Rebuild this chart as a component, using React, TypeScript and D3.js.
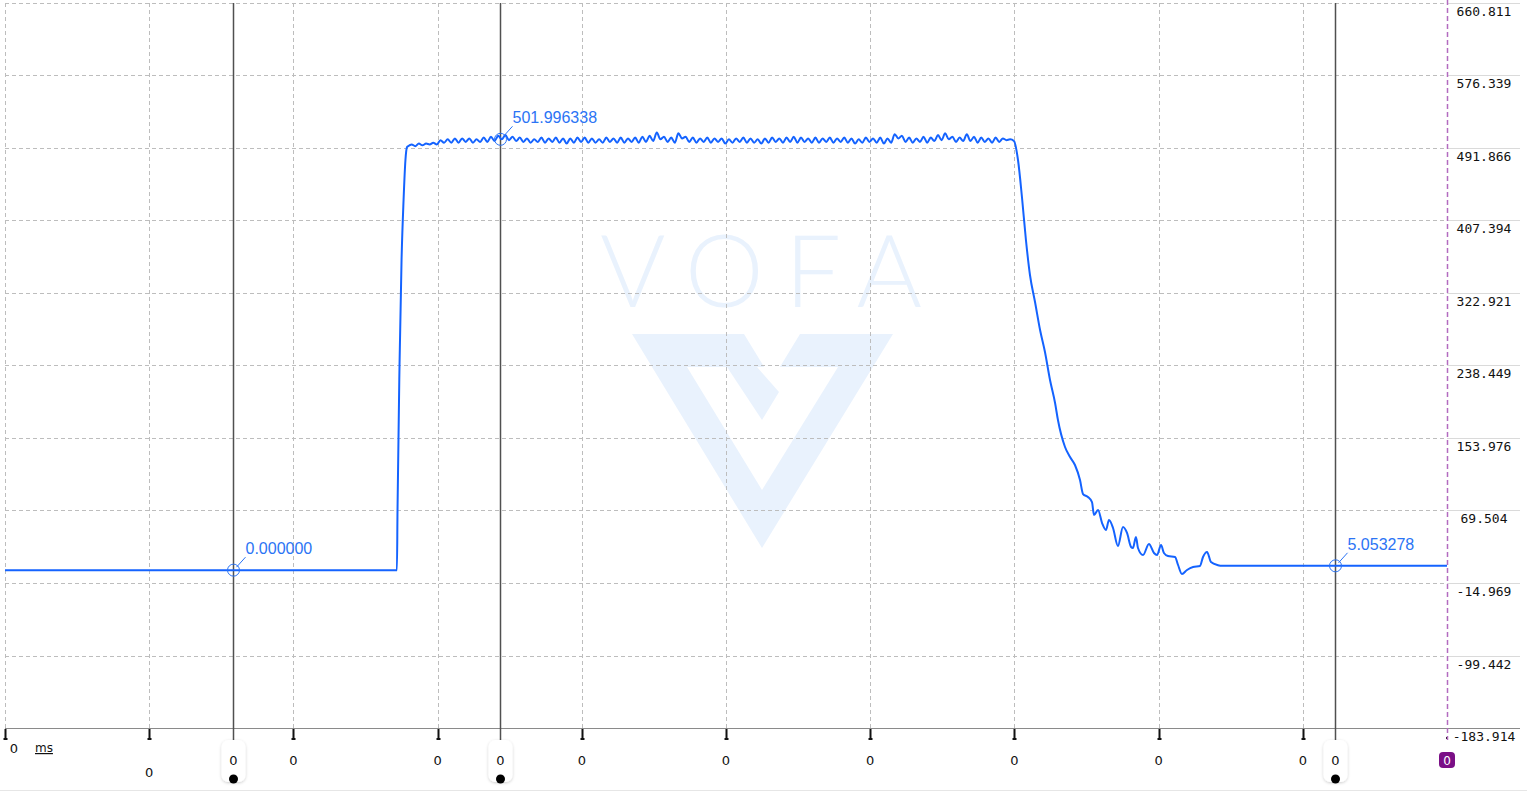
import React from 'react';
import * as d3 from 'd3';

const xTicks = [0, 100, 200, 300, 400, 500, 600, 700, 800, 900, 1000];
const xTickLabels = ['0', '0', '0', '0', '0', '0', '0', '0', '0', '0'];
const yTickLabels = ['660.811', '576.339', '491.866', '407.394', '322.921', '238.449', '153.976', '69.504', '-14.969', '-99.442', '-183.914'];

// [sample, value]
const idleHead: [number, number][] = [[0, 0], [271.8, 0]];
const riseEdge: [number, number][] = [
  [272.2, 70.1], [273.6, 239], [275.0, 361.4], [276.4, 431.3], [277.7, 477.9], [278.8, 493],
];
const plateauStart = 279.5;
const plateauStep = 2.5;
const plateau = [
  494, 496, 494, 497, 495, 497, 496, 498, 496, 501, 498, 502,
  498, 503, 498, 503, 499, 503, 498, 502, 499, 504, 499, 505,
  500, 506, 502, 507, 501, 505, 500, 504, 499, 503, 498, 502,
  499, 504, 498, 503, 499, 504, 498, 503, 497, 503, 498, 504,
  499, 504, 498, 503, 498, 502, 498, 504, 499, 503, 498, 504,
  498, 503, 499, 504, 498, 505, 499, 506, 500, 510, 502, 505,
  499, 504, 498, 509, 503, 505, 499, 504, 498, 503, 499, 504,
  498, 503, 499, 503, 497, 502, 498, 503, 499, 504, 498, 503,
  498, 502, 497, 503, 498, 504, 499, 503, 498, 504, 499, 505,
  498, 504, 499, 503, 498, 504, 498, 503, 499, 504, 498, 503,
  499, 504, 498, 503, 497, 502, 498, 504, 499, 503, 498, 504,
  497, 503, 498, 508, 503, 506, 499, 504, 498, 503, 499, 505,
  498, 504, 500, 507, 501, 509, 502, 505, 499, 504, 500, 508,
  500, 505, 498, 504, 499, 503, 498, 504, 499, 503, 501, 502,
];
const decay: [number, number][] = [
  [699.7, 500], [702.5, 477.9], [705.3, 433.6], [708.0, 384.7], [710.8, 343.9], [714.3, 312.4],
  [717.8, 279.8], [721.2, 254.2], [724.7, 221.6], [728.2, 194.7], [730.2, 174.9], [735.1, 143.5],
  [738.6, 131.8], [742.0, 122.5], [745.5, 105.0], [747.6, 88.7], [751.0, 85.2], [753.8, 79.4],
  [755.2, 64.2], [758.0, 70.1], [760.8, 54.9], [763.5, 46.8], [765.6, 58.4], [768.4, 49.1],
  [771.8, 28.1], [775.3, 50.3], [778.1, 43.3], [780.9, 27.0], [782.2, 25.8], [784.3, 38.6],
  [785.7, 25.8], [789.2, 17.6], [793.3, 30.5], [796.8, 20.0], [798.9, 17.6], [801.7, 29.3],
  [803.7, 20.0], [806.5, 16.5], [811.4, 15.3], [813.5, 6.0], [816.2, -4.5], [819.7, 0.2],
  [823.9, 3.7], [828.7, 4.9], [830.8, 15.3], [833.6, 21.1], [836.3, 9.5], [841.2, 5.8],
];
const idleTail: [number, number][] = [[844, 5.053], [1000, 5.053]];

const cursorT = [158.1, 343.3, 922.3];
const cursorLabels = ['0.000000', '501.996338', '5.053278'];

// ---- layout ----
const W = 1527;
const H = 793;
const left = 5;
const right = 1447;
const top = 3;
const bottom = 728;

const COLORS = {
  grid: '#bdbdbd',
  axis: '#8a8a8a',
  signal: '#1463ff',
  label: '#2b74f5',
  cursor: '#505050',
  marker: '#b36bc0',
  badge: '#7a0f86',
  mark: '#e9f2fd',
};

export default function App() {
  const x = d3.scaleLinear().domain([0, 1000]).range([left, right]);
  const y = d3.scaleLinear().domain([-183.914, 660.811]).range([bottom, top]);

  const series: [number, number][] = [
    ...idleHead,
    ...riseEdge,
    ...plateau.map((v, i) => [plateauStart + i * plateauStep, v] as [number, number]),
    ...decay,
    ...idleTail,
  ];
  const line = d3.line<[number, number]>()
    .x(d => x(d[0]))
    .y(d => y(d[1]))
    .curve(d3.curveMonotoneX);

  const mono = '"DejaVu Sans Mono", monospace';
  const sans = '"DejaVu Sans", sans-serif';

  return (
    <div style={{ position: 'fixed', left: 0, top: 0 }}>
      <svg width={W} height={H} style={{ display: 'block', background: '#fff' }}>
        <defs>
          <filter id="shadow" x="-50%" y="-20%" width="200%" height="140%">
            <feDropShadow dx="0" dy="1" stdDeviation="1.5" floodColor="#000" floodOpacity="0.2" />
          </filter>
        </defs>

        {/* watermark */}
        <g fill={COLORS.mark}>
          <text x={600} y={307} fontSize={100} fontFamily='Lato, "Open Sans", sans-serif' fontWeight={300}
            textLength={322} lengthAdjust="spacing">VOFA</text>
          <path d="M632,334 L893,334 L762,548 Z" />
        </g>
        <path d="M687,367 L838,367 L762,490 Z" fill="#fff" />
        <path d="M744,334 L800,334 L772,380 Z" fill="#fff" />
        <path d="M727,367 L757,367 L779,392 L762,420 Z" fill={COLORS.mark} />

        {/* grid */}
        <g stroke={COLORS.grid} strokeDasharray="4,3" strokeWidth={1}>
          {yTickLabels.map((t, i) => (
            <line key={'h' + i} x1={left} x2={right} y1={Math.round(y(+t)) + 0.5} y2={Math.round(y(+t)) + 0.5} />
          ))}
          {xTicks.slice(0, -1).map(t => (
            <line key={'v' + t} x1={Math.round(x(t)) + 0.5} x2={Math.round(x(t)) + 0.5} y1={top} y2={bottom} />
          ))}
        </g>

        {/* right axis */}
        <g>
          {yTickLabels.map((t, i) => (
            <g key={'yl' + i}>
              {i < yTickLabels.length - 1 && (
                <line x1={right} x2={1520} y1={Math.round(y(+t)) + 0.5} y2={Math.round(y(+t)) + 0.5} stroke="#dadada" />
              )}
              <text x={1484} y={y(+t) + 13} textAnchor="middle" fontFamily={mono} fontSize={13} fill="#111">{t}</text>
            </g>
          ))}
        </g>

        {/* x axis */}
        <line x1={left} x2={1520} y1={bottom + 0.5} y2={bottom + 0.5} stroke={COLORS.axis} strokeWidth={1} />
        <g fill="#111">
          {xTicks.slice(0, -1).map(t => (
            <g key={'xt' + t}>
              <rect x={Math.round(x(t)) - 0.5} y={bottom + 1} width={2} height={10} />
              <rect x={Math.round(x(t)) - 1.5} y={bottom + 10} width={4} height={2} />
            </g>
          ))}
          <rect x={right - 1} y={bottom + 9} width={2} height={2} />
        </g>
        <g fontFamily={sans} fontSize={13} fill="#111">
          {xTicks.slice(0, -1).map((t, i) => {
            if (i === 0) {
              return (
                <g key={'xl' + t}>
                  <text x={x(t) + 9} y={753} textAnchor="middle">{xTickLabels[i]}</text>
                  <text x={35} y={752} textDecoration="underline" fontSize={12}>ms</text>
                </g>
              );
            }
            return (
              <text key={'xl' + t} x={x(t)} y={i === 1 ? 777 : 765} textAnchor="middle">{xTickLabels[i]}</text>
            );
          })}
        </g>

        {/* end marker */}
        <line x1={right + 0.5} x2={right + 0.5} y1={0} y2={740} stroke={COLORS.marker} strokeWidth={1.5} strokeDasharray="5,3" />
        <rect x={right - 8} y={752} width={16} height={16} rx={4} fill={COLORS.badge} />
        <text x={right} y={765} textAnchor="middle" fontFamily={sans} fontSize={12} fill="#fff">0</text>

        {/* cursors */}
        {cursorT.map((t, i) => {
          const cx = Math.round(x(t)) + 0.5;
          return (
            <g key={'c' + i}>
              <line x1={cx} x2={cx} y1={top} y2={742} stroke={COLORS.cursor} strokeWidth={1.5} />
              <rect x={cx - 12} y={740} width={24} height={42} rx={7} fill="#fff" filter="url(#shadow)" />
              <text x={cx} y={765} textAnchor="middle" fontFamily={sans} fontSize={13} fill="#111">0</text>
              <circle cx={cx} cy={779} r={4.5} fill="#000" />
            </g>
          );
        })}

        {/* signal */}
        <path d={line(series) || ''} fill="none" stroke={COLORS.signal} strokeWidth={2} strokeLinejoin="round" />

        {/* cursor readouts */}
        {cursorT.map((t, i) => {
          const cx = Math.round(x(t)) + 0.5;
          const cy = y(parseFloat(cursorLabels[i]));
          return (
            <g key={'r' + i}>
              <circle cx={cx} cy={cy} r={6} fill="none" stroke={COLORS.label} strokeWidth={1} />
              <line x1={cx + 3} y1={cy - 3} x2={cx + 12} y2={cy - 13} stroke={COLORS.label} strokeWidth={1} />
              <text x={cx + 12} y={cy - 16} fontFamily='"Liberation Sans", Arial, sans-serif' fontSize={16} fill={COLORS.label}>
                {cursorLabels[i]}
              </text>
            </g>
          );
        })}

        {/* bottom frame */}
        <line x1={0} x2={W} y1={790.5} y2={790.5} stroke="#e6e6e6" />
      </svg>
    </div>
  );
}
